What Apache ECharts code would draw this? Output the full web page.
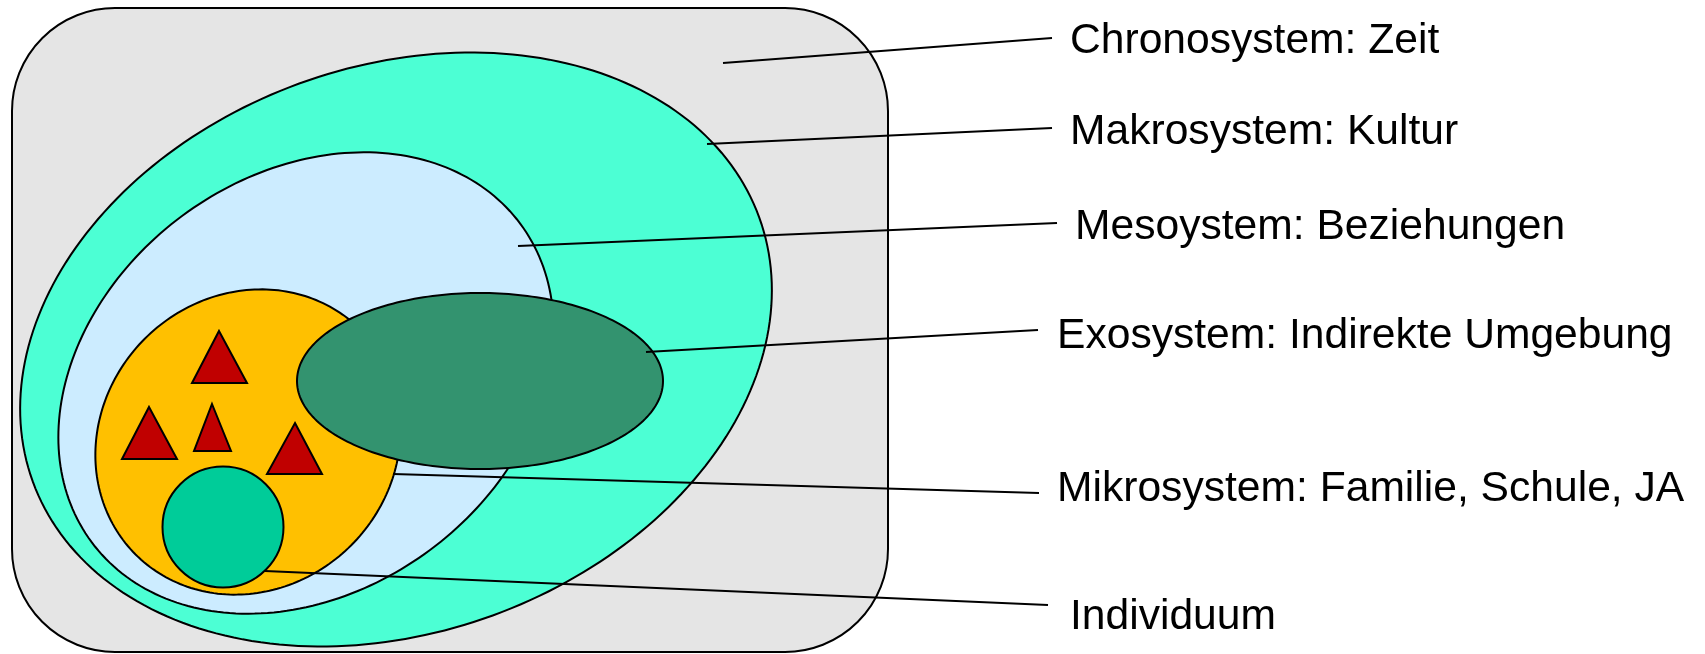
<!DOCTYPE html>
<html>
<head>
<meta charset="utf-8">
<script src="https://cdn.jsdelivr.net/npm/echarts@6/dist/echarts.min.js"></script>
<style>
html,body{margin:0;padding:0;background:#ffffff;}
#chart{width:1705px;height:654px;}
</style>
</head>
<body>
<div id="chart"></div>
<script>
// ---- diagram data (diagram units on hidden 0..1705 x 0..654 axes) ----
const systemLabels = [
  'Chronosystem: Zeit',
  'Makrosystem: Kultur',
  'Mesoystem: Beziehungen',
  'Exosystem: Indirekte Umgebung',
  'Mikrosystem: Familie, Schule, JA',
  'Individuum'
];
const labelX = [1070, 1070, 1075, 1057, 1057, 1070];
const labelBaseY = [54, 145, 240, 349, 502, 630];

const leaderStartX = [723, 707, 518, 646, 393, 265];
const leaderStartY = [63, 144, 246, 352, 474, 571];
const leaderEndX = [1052, 1052, 1057, 1038, 1039, 1048];
const leaderEndY = [38, 128, 223, 330, 493, 605];

// outer frame (Chronosystem): x1, y1, x2, y2, corner radius
const frameBox = [12, 8, 888, 652, 103];

// nested systems as tilted ellipses
const ellipseNames = ['Makrosystem', 'Mesosystem', 'Mikrosystem', 'Exosystem'];
const ellipseCx = [396, 306, 248, 480];
const ellipseCy = [349.5, 383, 442, 381];
const ellipseA = [386.5, 267, 159, 183];
const ellipseB = [283, 208, 146, 88];
const ellipseTilt = [20, 36.6, 45, 0];

// Individuum circle: cx, cy, r
const individuum = [223, 527, 60.5];

// triangles: apexX, apexY, baseLeftX, baseRightX, baseY
const triApexX = [219, 149, 212, 295];
const triApexY = [331, 407, 404, 423];
const triBaseL = [192, 122, 194, 267];
const triBaseR = [247, 177, 231, 322];
const triBaseY = [383, 459, 451, 474];

// ---- styles ----
const frameColor = '#E5E5E5';
const ellipseColors = ['#4CFFD4', '#CCECFF', '#FFC000', '#33936F'];
const individuumColor = '#00CC99';
const triangleColor = '#C00000';
const strokeW = 2;
const labelFont = '42.6px "Liberation Sans", Arial, Helvetica, sans-serif';

const chart = echarts.init(document.getElementById('chart'), null, {renderer: 'canvas'});

const option = {
  animation: false,
  backgroundColor: '#ffffff',
  grid: {left: 0, right: 0, top: 0, bottom: 0, containLabel: false},
  xAxis: {type: 'value', min: 0, max: 1705, show: false},
  yAxis: {type: 'value', min: 0, max: 654, inverse: true, show: false},
  series: [
    {
      type: 'custom', name: 'Chronosystem', silent: true, z: 1,
      data: [frameBox],
      renderItem: function (params, api) {
        const p1 = api.coord([api.value(0), api.value(1)]);
        const p2 = api.coord([api.value(2), api.value(3)]);
        const r = api.size([api.value(4), api.value(4)]);
        return {
          type: 'rect',
          shape: {x: p1[0], y: p1[1], width: p2[0] - p1[0], height: p2[1] - p1[1], r: Math.min(r[0], r[1])},
          style: {fill: frameColor, stroke: '#000', lineWidth: strokeW}
        };
      }
    },
    {
      type: 'custom', name: 'Systeme', silent: true, z: 2,
      data: ellipseCx.map((x, i) => [x, ellipseCy[i], ellipseA[i], ellipseB[i], ellipseTilt[i]]),
      renderItem: function (params, api) {
        const cx = api.value(0), cy = api.value(1), a = api.value(2), b = api.value(3);
        const t = api.value(4) * Math.PI / 180;
        const pts = [];
        const n = 240;
        for (let i = 0; i < n; i++) {
          const th = i / n * Math.PI * 2;
          const ux = a * Math.cos(th), uy = b * Math.sin(th);
          const x = cx + ux * Math.cos(t) - uy * Math.sin(t);
          const y = cy - (ux * Math.sin(t) + uy * Math.cos(t));
          pts.push(api.coord([x, y]));
        }
        return {
          type: 'polygon',
          shape: {points: pts},
          style: {fill: ellipseColors[params.dataIndex], stroke: '#000', lineWidth: strokeW}
        };
      }
    },
    {
      type: 'custom', name: 'Individuum', silent: true, z: 3,
      data: [individuum],
      renderItem: function (params, api) {
        const c = api.coord([api.value(0), api.value(1)]);
        const r = api.size([api.value(2), api.value(2)]);
        return {
          type: 'circle',
          shape: {cx: c[0], cy: c[1], r: r[0]},
          style: {fill: individuumColor, stroke: '#000', lineWidth: strokeW}
        };
      }
    },
    {
      type: 'custom', name: 'Personen', silent: true, z: 3,
      data: triApexX.map((x, i) => [x, triApexY[i], triBaseL[i], triBaseR[i], triBaseY[i]]),
      renderItem: function (params, api) {
        const apex = api.coord([api.value(0), api.value(1)]);
        const bl = api.coord([api.value(2), api.value(4)]);
        const br = api.coord([api.value(3), api.value(4)]);
        return {
          type: 'polygon',
          shape: {points: [apex, br, bl]},
          style: {fill: triangleColor, stroke: '#000', lineWidth: strokeW, lineJoin: 'miter'}
        };
      }
    },
    {
      type: 'custom', name: 'Linien', silent: true, z: 4,
      data: leaderStartX.map((x, i) => [x, leaderStartY[i], leaderEndX[i], leaderEndY[i]]),
      renderItem: function (params, api) {
        const p1 = api.coord([api.value(0), api.value(1)]);
        const p2 = api.coord([api.value(2), api.value(3)]);
        return {
          type: 'line',
          shape: {x1: p1[0], y1: p1[1], x2: p2[0], y2: p2[1]},
          style: {stroke: '#000', lineWidth: strokeW}
        };
      }
    },
    {
      type: 'custom', name: 'Beschriftung', silent: true, z: 5,
      data: labelX.map((x, i) => [x, labelBaseY[i]]),
      renderItem: function (params, api) {
        const p = api.coord([api.value(0), api.value(1)]);
        return {
          type: 'text',
          x: p[0], y: p[1] - 13,
          style: {
            text: systemLabels[params.dataIndex],
            font: labelFont,
            fill: '#000',
            align: 'left',
            verticalAlign: 'middle'
          }
        };
      }
    }
  ]
};
chart.setOption(option);
</script>
</body>
</html>
